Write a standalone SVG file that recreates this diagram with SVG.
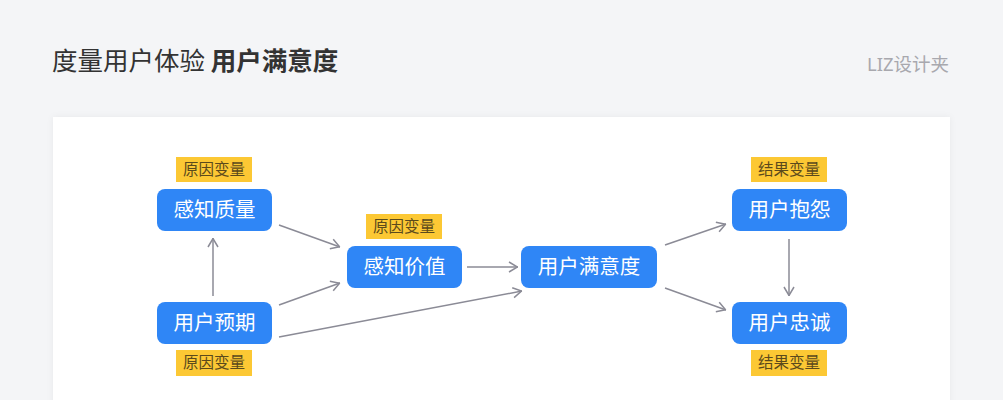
<svg xmlns="http://www.w3.org/2000/svg" width="1003" height="400" viewBox="0 0 1003 400">
<defs>
<style>
.title{font-family:"Noto Sans CJK SC","Noto Sans",sans-serif;font-size:25.5px;fill:#333}
.brand{font-family:"Noto Sans","Noto Sans CJK SC",sans-serif;font-size:18.5px;fill:#a8a8ae}
.node rect{fill:#2f86f6}
.node text{font-family:"Noto Sans CJK SC",sans-serif;font-size:20.5px;fill:#fff;text-anchor:middle}
.tag rect{fill:#fcc834}
.tag text{font-family:"Noto Sans CJK SC",sans-serif;font-size:15.5px;fill:#5b4a1c;text-anchor:middle}
.conn path{fill:none;stroke:#8b8b96;stroke-width:1.5}
</style>
<marker id="arr" viewBox="0 0 10 12" refX="10" refY="6" markerWidth="10" markerHeight="12" markerUnits="userSpaceOnUse" orient="auto">
<path d="M1,1 L9.5,6 L1,11" fill="none" stroke="#8b8b96" stroke-width="1.5"/>
</marker>
<filter id="sh" x="-5%" y="-5%" width="110%" height="120%">
<feDropShadow dx="0" dy="0" stdDeviation="3" flood-color="#000" flood-opacity="0.05"/>
</filter>
</defs>
<rect width="1003" height="400" fill="#f4f5f7"/>
<rect x="53" y="117" width="897" height="300" fill="#fff" filter="url(#sh)"/>
<text class="title" x="52" y="70">度量用户体验 <tspan font-weight="bold">用户满意度</tspan></text>
<text class="brand" x="867" y="71">LIZ设计夹</text>

<g id="connectors" class="conn">
<path d="M279,225 L340,247" marker-end="url(#arr)"/>
<path d="M279,305 L340,283" marker-end="url(#arr)"/>
<path d="M279,337 L522,291" marker-end="url(#arr)"/>
<path d="M213,296 L213,238" marker-end="url(#arr)"/>
<path d="M467,267 L518,267" marker-end="url(#arr)"/>
<path d="M665,245 L726,224" marker-end="url(#arr)"/>
<path d="M665,288 L726,310" marker-end="url(#arr)"/>
<path d="M789,239 L789,296" marker-end="url(#arr)"/>
</g>

<g id="node-ganzhizhiliang" class="node"><rect x="157" y="189" width="115" height="42" rx="8"/><text x="214.5" y="217">感知质量</text></g>
<g id="node-yonghuyuqi" class="node"><rect x="157" y="302" width="115" height="42" rx="8"/><text x="214.5" y="330">用户预期</text></g>
<g id="node-ganzhijiazhi" class="node"><rect x="347" y="246" width="115" height="42" rx="8"/><text x="404.5" y="274">感知价值</text></g>
<g id="node-manyidu" class="node"><rect x="521" y="246" width="136" height="42" rx="8"/><text x="589" y="274">用户满意度</text></g>
<g id="node-baoyuan" class="node"><rect x="732" y="189" width="115" height="42" rx="8"/><text x="789.5" y="217">用户抱怨</text></g>
<g id="node-zhongcheng" class="node"><rect x="732" y="302" width="115" height="42" rx="8"/><text x="789.5" y="330">用户忠诚</text></g>

<g id="tag-1" class="tag"><rect x="176" y="157" width="76" height="25"/><text x="214" y="175">原因变量</text></g>
<g id="tag-2" class="tag"><rect x="366" y="214" width="76" height="25"/><text x="404" y="232">原因变量</text></g>
<g id="tag-3" class="tag"><rect x="176" y="350" width="76" height="26"/><text x="214" y="368">原因变量</text></g>
<g id="tag-4" class="tag"><rect x="751" y="157" width="76" height="25"/><text x="789" y="175">结果变量</text></g>
<g id="tag-5" class="tag"><rect x="751" y="350" width="76" height="26"/><text x="789" y="368">结果变量</text></g>
</svg>
